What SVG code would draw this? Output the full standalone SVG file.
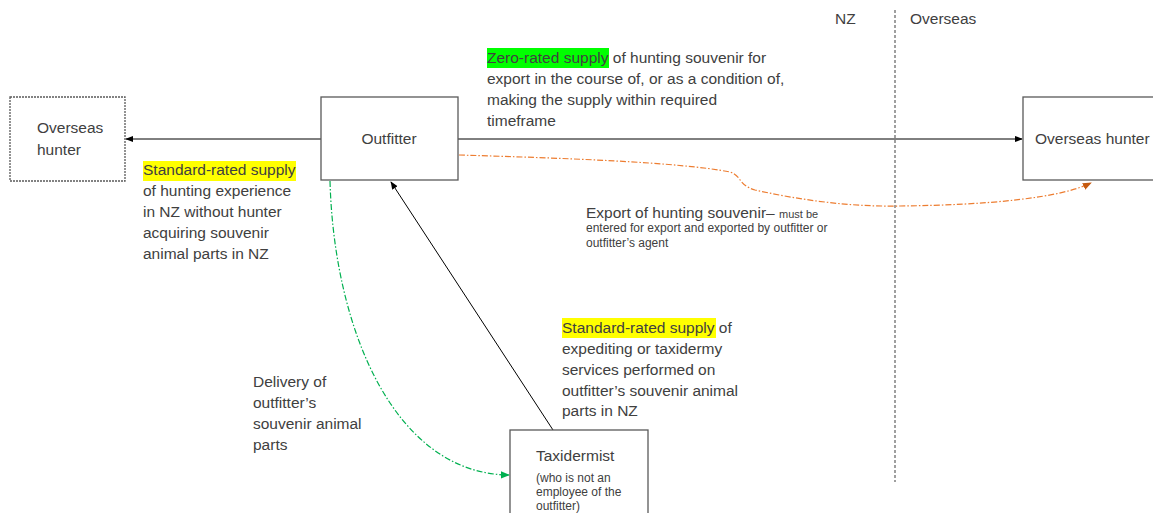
<svg xmlns="http://www.w3.org/2000/svg" width="1153" height="513" viewBox="0 0 1153 513">
  <style>
    .box { fill: #ffffff; stroke: #595959; stroke-width: 1.3; }
    .dotted { stroke-dasharray: 2 1; }
    .t { font-family: "Liberation Sans", Arial, sans-serif; font-size: 15.5px; fill: #404040; }
    .s { font-family: "Liberation Sans", Arial, sans-serif; font-size: 12px; fill: #404040; }
    .arrow { fill: none; stroke: #000000; stroke-width: 1; }
    .orange { fill: none; stroke: #ED7D31; stroke-width: 1.2; stroke-dasharray: 6 2 1.5 2; }
    .green { fill: none; stroke: #00B050; stroke-width: 1.2; stroke-dasharray: 6 2 1.5 2; }
    .border { fill: none; stroke: #808080; stroke-width: 1.5; stroke-dasharray: 3 2; }
  </style>
  <defs>
    <marker id="ahBlack" viewBox="0 0 10 10" refX="9" refY="5" markerWidth="8" markerHeight="8" orient="auto" markerUnits="userSpaceOnUse">
      <path d="M0,1 L10,5 L0,9 z" fill="#000000"/>
    </marker>
    <marker id="ahOrange" viewBox="0 0 10 10" refX="9" refY="5" markerWidth="9" markerHeight="9" orient="auto" markerUnits="userSpaceOnUse">
      <path d="M0,1 L10,5 L0,9 z" fill="#C55A11"/>
    </marker>
    <marker id="ahGreen" viewBox="0 0 10 10" refX="9" refY="5" markerWidth="9" markerHeight="9" orient="auto" markerUnits="userSpaceOnUse">
      <path d="M0,1 L10,5 L0,9 z" fill="#00B050"/>
    </marker>
  </defs>

  <!-- NZ / Overseas border -->
  <g id="border">
    <line class="border" x1="895" y1="10" x2="895" y2="482"/>
    <text class="t" x="835" y="24">NZ</text>
    <text class="t" x="910" y="24">Overseas</text>
  </g>

  <!-- connectors -->
  <g id="connectors">
    <line class="arrow" x1="321" y1="139" x2="126" y2="139" marker-end="url(#ahBlack)"/>
    <line class="arrow" x1="458" y1="139" x2="1022" y2="139" marker-end="url(#ahBlack)"/>
    <line class="arrow" x1="553" y1="430" x2="391" y2="182" marker-end="url(#ahBlack)"/>
    <path class="orange" d="M459,155 C560,158 680,162 730,172 C742,176 738,185 755,190 C800,200 850,207 900,206 C990,205 1060,198 1091,183" marker-end="url(#ahOrange)"/>
    <path class="green" d="M330,181 C334,330 395,474 509,475" marker-end="url(#ahGreen)"/>
  </g>

  <!-- nodes -->
  <g id="overseas-hunter-left">
    <rect class="box dotted" x="10" y="97" width="115" height="84"/>
    <text class="t" x="37" y="133">Overseas</text>
    <text class="t" x="37" y="155">hunter</text>
  </g>
  <g id="outfitter">
    <rect class="box" x="321" y="97" width="137" height="83"/>
    <text class="t" x="389" y="144" text-anchor="middle">Outfitter</text>
  </g>
  <g id="overseas-hunter-right">
    <rect class="box" x="1023" y="97" width="140" height="83"/>
    <text class="t" x="1035" y="144">Overseas hunter</text>
  </g>
  <g id="taxidermist">
    <rect class="box" x="510" y="430" width="138" height="90"/>
    <text class="t" x="536" y="461">Taxidermist</text>
    <text class="s" x="536" y="482">(who is not an</text>
    <text class="s" x="536" y="496">employee of the</text>
    <text class="s" x="536" y="510">outfitter)</text>
  </g>

  <!-- labels -->
  <g id="label-zero-rated">
    <rect x="487" y="48" width="122" height="20" fill="#00FF00"/>
    <text class="t" x="487" y="63">Zero-rated supply of hunting souvenir for</text>
    <text class="t" x="487" y="84">export in the course of, or as a condition of,</text>
    <text class="t" x="487" y="105">making the supply within required</text>
    <text class="t" x="487" y="126">timeframe</text>
  </g>
  <g id="label-standard-hunting">
    <rect x="143" y="161" width="153" height="20" fill="#FFFF00"/>
    <text class="t" x="143" y="175">Standard-rated supply</text>
    <text class="t" x="143" y="196">of hunting experience</text>
    <text class="t" x="143" y="217">in NZ without hunter</text>
    <text class="t" x="143" y="238">acquiring souvenir</text>
    <text class="t" x="143" y="259">animal parts in NZ</text>
  </g>
  <g id="label-export">
    <text class="t" x="586" y="218">Export of hunting souvenir– <tspan font-size="11px">must be</tspan></text>
    <text class="s" x="586" y="232">entered for export and exported by outfitter or</text>
    <text class="s" x="586" y="247">outfitter’s agent</text>
  </g>
  <g id="label-standard-taxidermy">
    <rect x="562" y="318" width="154" height="20" fill="#FFFF00"/>
    <text class="t" x="562" y="333">Standard-rated supply of</text>
    <text class="t" x="562" y="354">expediting or taxidermy</text>
    <text class="t" x="562" y="375">services performed on</text>
    <text class="t" x="562" y="396">outfitter’s souvenir animal</text>
    <text class="t" x="562" y="416">parts in NZ</text>
  </g>
  <g id="label-delivery">
    <text class="t" x="253" y="387">Delivery of</text>
    <text class="t" x="253" y="408">outfitter’s</text>
    <text class="t" x="253" y="429">souvenir animal</text>
    <text class="t" x="253" y="450">parts</text>
  </g>
</svg>
